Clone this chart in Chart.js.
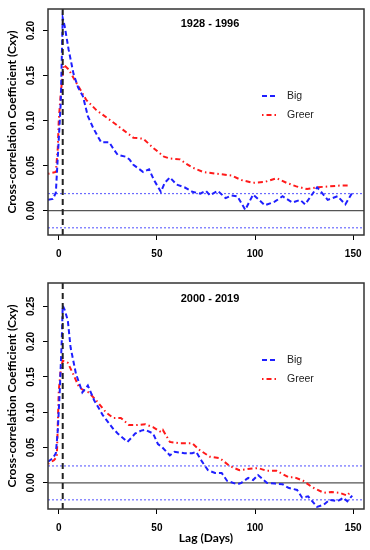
<!DOCTYPE html>
<html>
<head>
<meta charset="utf-8">
<script src="https://cdn.jsdelivr.net/npm/chart.js@4.4.0/dist/chart.umd.min.js"></script>
<style>
  body { margin: 0; background: #fff; }
  canvas { display: block; }
</style>
</head>
<body>
<canvas id="panel1" width="370" height="275"></canvas>
<canvas id="panel2" width="370" height="275"></canvas>
<script>
// --- DATOS ---
const xTicks = [0, 50, 100, 150];
const yTicks1 = [0, 0.05, 0.10, 0.15, 0.20];
const yTicks2 = [0, 0.05, 0.10, 0.15, 0.20, 0.25];
const titulo1 = '1928 - 1996';
const titulo2 = '2000 - 2019';
const etiquetas = ['Big', 'Greer'];
const lagPico = 2;
const sig1 = 0.019;
const sig2 = 0.024;

// Panel 1: 1928 - 1996
const bigLag1 = [-5.5, -3, -1.5, 0, 1, 2, 3, 5, 7.5, 9.8, 12.3, 14.8, 17.5, 20, 21.6, 25.7, 28, 30, 34, 36, 38, 43, 46, 48.5, 52, 54, 56.6, 60, 64, 68, 72, 75, 77, 81, 85, 88, 91, 95, 99, 102, 105, 110, 114, 119, 123, 125.5, 131.6, 134, 137, 142, 146, 149.5];
const bigVal1 = [0.012, 0.013, 0.020, 0.080, 0.120, 0.214, 0.205, 0.179, 0.152, 0.137, 0.127, 0.105, 0.092, 0.082, 0.076, 0.076, 0.068, 0.062, 0.060, 0.057, 0.051, 0.043, 0.046, 0.034, 0.021, 0.031, 0.037, 0.029, 0.026, 0.021, 0.019, 0.022, 0.017, 0.022, 0.014, 0.017, 0.016, 0.001, 0.018, 0.012, 0.006, 0.010, 0.016, 0.009, 0.012, 0.007, 0.026, 0.020, 0.012, 0.016, 0.007, 0.020];
const greerLag1 = [-5.5, -1.5, -0.5, 0, 1, 2.5, 5, 8.7, 14, 19, 24, 29, 32.6, 38, 43, 48, 53.6, 56.6, 61.7, 65, 68, 73.5, 80.6, 88, 93, 99, 105, 111, 116, 121, 126.5, 131.6, 138, 144, 148.5];
const greerVal1 = [0.041, 0.043, 0.070, 0.101, 0.130, 0.162, 0.157, 0.143, 0.123, 0.112, 0.104, 0.096, 0.090, 0.081, 0.080, 0.070, 0.060, 0.058, 0.057, 0.052, 0.048, 0.043, 0.041, 0.039, 0.034, 0.031, 0.032, 0.036, 0.031, 0.027, 0.024, 0.026, 0.027, 0.028, 0.028];

// Panel 2: 2000 - 2019
const bigLag2 = [-5.5, -3, -1.5, -0.5, 0.5, 1.5, 2, 3, 4.6, 6, 8.7, 12, 14.8, 18, 22.4, 27.6, 30, 35, 39, 42, 44, 48, 50.5, 52.5, 56.6, 59, 64, 68, 70, 73, 76, 79.6, 83, 85.7, 91, 93, 96.5, 99, 101.5, 106, 110, 114, 117, 121.4, 124, 127, 131.6, 135, 138, 142, 145, 147, 149.5];
const bigVal2 = [0.030, 0.035, 0.042, 0.075, 0.131, 0.201, 0.251, 0.245, 0.230, 0.192, 0.155, 0.128, 0.138, 0.117, 0.096, 0.077, 0.070, 0.058, 0.070, 0.074, 0.075, 0.070, 0.055, 0.051, 0.039, 0.044, 0.042, 0.042, 0.044, 0.030, 0.018, 0.014, 0.014, 0.003, -0.002, 0.000, 0.007, 0.004, 0.011, 0.000, -0.001, -0.002, -0.007, -0.010, -0.021, -0.019, -0.034, -0.031, -0.024, -0.026, -0.021, -0.026, -0.018];
const greerLag2 = [-5.5, -2.5, -1, 0, 1, 2, 4.6, 7, 10.4, 12.8, 15.3, 19, 24, 27.6, 31.6, 35.7, 40, 44, 48, 52, 53, 56.6, 61.7, 68, 72, 77, 82, 87, 92, 97.4, 101.5, 106, 111, 117, 120, 124.5, 129, 135, 139, 143, 147, 148.5];
const greerVal2 = [0.027, 0.032, 0.037, 0.131, 0.160, 0.173, 0.170, 0.156, 0.135, 0.131, 0.128, 0.117, 0.100, 0.092, 0.092, 0.082, 0.082, 0.083, 0.079, 0.072, 0.075, 0.058, 0.056, 0.056, 0.046, 0.037, 0.035, 0.024, 0.018, 0.020, 0.021, 0.017, 0.017, 0.008, 0.008, 0.003, -0.006, -0.014, -0.013, -0.014, -0.018, -0.013];

// límites de los ejes
const xMin = -5.5, xMax = 155.5;
const yMin1 = -0.027, yMax1 = 0.224;
const yMin2 = -0.037, yMax2 = 0.283;

// --- UTILIDADES ---
function puntos(lags, vals) {
    return lags.map((x, i) => ({ x: x, y: vals[i] }));
}

const AZUL = '#1f1fff';
const ROJO = '#ff1a1a';
const fuenteTick = { family: '"Liberation Sans", Arial, sans-serif', size: 10, weight: 'bold' };
const fuenteTitulo = { family: 'Lato, "Open Sans", sans-serif', size: 12, weight: 'bold' };

// marco, título y leyenda dentro del área del gráfico
const marcoPlugin = {
    id: 'marco',
    afterDatasetsDraw(chart, args, opts) {
        const a = chart.chartArea;
        const ctx = chart.ctx;
        ctx.save();
        ctx.strokeStyle = '#333';
        ctx.lineWidth = 1.5;
        ctx.setLineDash([]);
        ctx.strokeRect(a.left, a.top, a.right - a.left, a.bottom - a.top);

        ctx.fillStyle = '#000';
        ctx.font = 'bold 11px "Liberation Sans", Arial, sans-serif';
        ctx.textAlign = 'center';
        ctx.textBaseline = 'middle';
        ctx.fillText(opts.titulo, opts.tx, opts.ty);

        // leyenda
        ctx.font = '10.5px "Liberation Sans", Arial, sans-serif';
        ctx.textAlign = 'left';
        chart.data.datasets.filter(d => d.enLeyenda).forEach((d, i) => {
            const y = opts.ly + i * opts.lPaso;
            ctx.strokeStyle = d.borderColor;
            ctx.lineWidth = 2;
            ctx.setLineDash(d.borderDash);
            ctx.beginPath();
            ctx.moveTo(opts.lx, y);
            ctx.lineTo(opts.lx + 16, y);
            ctx.stroke();
            ctx.setLineDash([]);
            ctx.fillStyle = '#222';
            ctx.fillText(d.label, opts.lx + 25, y);
        });
        ctx.restore();
    }
};

function crearPanel(id, p) {
    const ctx = document.getElementById(id).getContext('2d');
    return new Chart(ctx, {
        type: 'line',
        data: {
            datasets: [
                {
                    label: 'lag', data: [{ x: lagPico, y: p.yMin }, { x: lagPico, y: p.yMax }],
                    borderColor: '#222', borderWidth: 2, borderDash: [6, 4]
                },
                {
                    label: etiquetas[0], enLeyenda: true, data: puntos(p.bigLag, p.bigVal),
                    borderColor: AZUL, borderWidth: 2, borderDash: [5, 3]
                },
                {
                    label: etiquetas[1], enLeyenda: true, data: puntos(p.greerLag, p.greerVal),
                    borderColor: ROJO, borderWidth: 2, borderDash: [1.5, 3, 5, 3]
                },
                {
                    label: 'cero', data: [{ x: xMin, y: 0 }, { x: xMax, y: 0 }],
                    borderColor: '#555', borderWidth: 1.2, borderDash: []
                },
                {
                    label: 'sup', data: [{ x: xMin, y: p.sig }, { x: xMax, y: p.sig }],
                    borderColor: '#6b6bff', borderWidth: 1.2, borderDash: [2, 2]
                },
                {
                    label: 'inf', data: [{ x: xMin, y: -p.sig }, { x: xMax, y: -p.sig }],
                    borderColor: '#6b6bff', borderWidth: 1.2, borderDash: [2, 2]
                }
            ]
        },
        options: {
            responsive: false,
            animation: false,
            devicePixelRatio: 1,
            elements: { point: { radius: 0 }, line: { tension: 0 } },
            layout: { padding: { left: 0, right: 6, top: p.padTop, bottom: 0 } },
            plugins: {
                legend: { display: false },
                tooltip: { enabled: false },
                marco: { titulo: p.titulo, tx: 210, ty: 24, lx: 262, ly: p.ly, lPaso: 19 }
            },
            scales: {
                x: {
                    type: 'linear', min: xMin, max: xMax,
                    afterBuildTicks: s => { s.ticks = xTicks.map(v => ({ value: v })); },
                    afterFit: s => { s.height = p.altoX; },
                    grid: { drawOnChartArea: false, drawTicks: true, tickLength: 5, color: '#000' },
                    border: { display: false },
                    ticks: { font: fuenteTick, color: '#000', padding: 8, maxRotation: 0, callback: v => String(v) },
                    title: {
                        display: p.tituloX, text: 'Lag (Days)', font: fuenteTitulo, color: '#000',
                        padding: { top: 0, bottom: 5 }
                    }
                },
                y: {
                    type: 'linear', min: p.yMin, max: p.yMax,
                    afterBuildTicks: s => { s.ticks = p.yTicks.map(v => ({ value: v })); },
                    afterFit: s => { s.width = 48; },
                    grid: { drawOnChartArea: false, drawTicks: true, tickLength: 5, color: '#000' },
                    border: { display: false },
                    ticks: {
                        font: fuenteTick, color: '#000', padding: 2, minRotation: 90, maxRotation: 90,
                        crossAlign: 'center', callback: v => v.toFixed(2)
                    },
                    title: {
                        display: true, text: 'Cross-correlation Coefficient (Cxy)', font: fuenteTitulo, color: '#000',
                        padding: { top: 5, bottom: 0 }
                    }
                }
            }
        },
        plugins: [marcoPlugin]
    });
}

crearPanel('panel1', {
    bigLag: bigLag1, bigVal: bigVal1, greerLag: greerLag1, greerVal: greerVal1,
    yMin: yMin1, yMax: yMax1, yTicks: yTicks1, sig: sig1, titulo: titulo1,
    padTop: 9, altoX: 40, tituloX: false, ly: 96
});
crearPanel('panel2', {
    bigLag: bigLag2, bigVal: bigVal2, greerLag: greerLag2, greerVal: greerVal2,
    yMin: yMin2, yMax: yMax2, yTicks: yTicks2, sig: sig2, titulo: titulo2,
    padTop: 7, altoX: 41, tituloX: true, ly: 85
});
</script>
</body>
</html>
